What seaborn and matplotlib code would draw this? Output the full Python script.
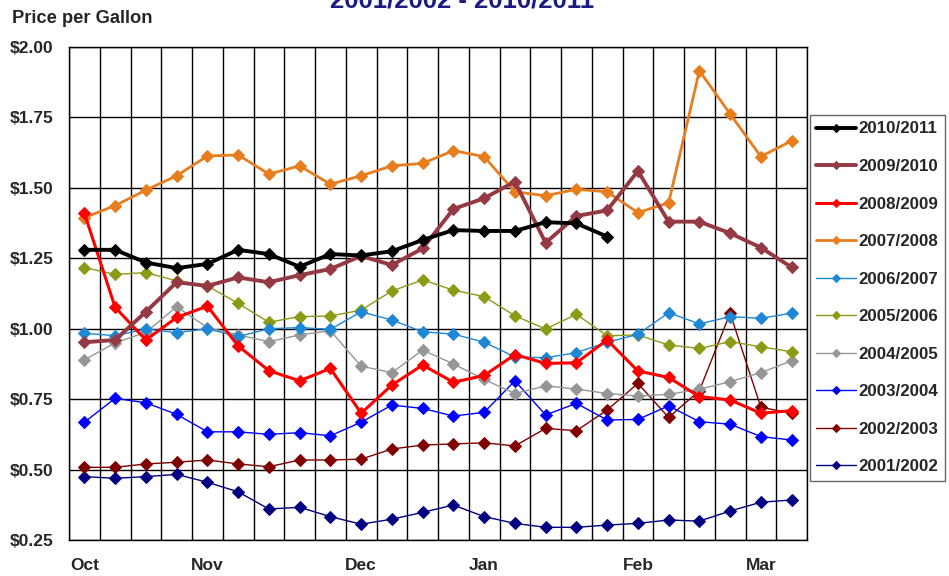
import numpy as np
import pandas as pd
import matplotlib
matplotlib.use("Agg")
import matplotlib.pyplot as plt
from matplotlib.ticker import MultipleLocator, FixedLocator, NullFormatter
import seaborn as sns

# weekly points, Oct -> Mar
weeks = list(range(24))
month_labels = ["Oct", "Nov", "Dec", "Jan", "Feb", "Mar"]
month_pos = [0, 4, 9, 13, 18, 22]

s2010 = [1.28, 1.28, 1.235, 1.215, 1.23, 1.28, 1.265, 1.22, 1.265, 1.26, 1.275, 1.315,
         1.35, 1.347, 1.347, 1.378, 1.374, 1.327]
s2009 = [0.952, 0.96, 1.06, 1.165, 1.152, 1.182, 1.165, 1.19, 1.212, 1.258, 1.226, 1.285,
         1.425, 1.463, 1.522, 1.305, 1.40, 1.42, 1.56, 1.38, 1.38, 1.339, 1.288, 1.218]
s2008 = [1.41, 1.076, 0.96, 1.04, 1.08, 0.939, 0.851, 0.815, 0.859, 0.70, 0.80, 0.871,
         0.81, 0.834, 0.908, 0.877, 0.879, 0.96, 0.85, 0.827, 0.759, 0.747, 0.70, 0.709]
s2007 = [1.394, 1.437, 1.492, 1.543, 1.613, 1.617, 1.549, 1.578, 1.513, 1.543, 1.578, 1.587,
         1.632, 1.611, 1.486, 1.472, 1.495, 1.486, 1.412, 1.447, 1.916, 1.762, 1.611, 1.667]
s2006 = [0.984, 0.975, 0.999, 0.986, 1.0, 0.972, 1.0, 1.004, 0.998, 1.06, 1.031, 0.989,
         0.981, 0.952, 0.90, 0.897, 0.915, 0.952, 0.98, 1.057, 1.017, 1.043, 1.037, 1.055]
s2005 = [1.217, 1.193, 1.199, 1.17, 1.152, 1.09, 1.023, 1.043, 1.045, 1.066, 1.134, 1.173,
         1.137, 1.114, 1.046, 0.999, 1.051, 0.975, 0.978, 0.942, 0.930, 0.954, 0.936, 0.918]
s2004 = [0.889, 0.95, 0.987, 1.078, 1.004, 0.978, 0.954, 0.978, 0.993, 0.867, 0.844, 0.924,
         0.875, 0.82, 0.77, 0.797, 0.786, 0.77, 0.761, 0.767, 0.785, 0.812, 0.844, 0.886]
s2003 = [0.668, 0.753, 0.737, 0.696, 0.634, 0.634, 0.625, 0.631, 0.62, 0.668, 0.729, 0.717,
         0.69, 0.703, 0.815, 0.694, 0.735, 0.676, 0.678, 0.726, 0.67, 0.661, 0.617, 0.605]
s2002 = [0.508, 0.508, 0.52, 0.526, 0.534, 0.52, 0.51, 0.534, 0.534, 0.537, 0.573, 0.587,
         0.591, 0.595, 0.584, 0.646, 0.638, 0.711, 0.806, 0.685, 0.78, 1.055, 0.721, 0.70]
s2001 = [0.475, 0.469, 0.475, 0.483, 0.455, 0.421, 0.36, 0.366, 0.333, 0.306, 0.324, 0.348,
         0.374, 0.333, 0.309, 0.295, 0.295, 0.303, 0.309, 0.321, 0.317, 0.353, 0.384, 0.392]

seasons = ["2010/2011", "2009/2010", "2008/2009", "2007/2008", "2006/2007",
           "2005/2006", "2004/2005", "2003/2004", "2002/2003", "2001/2002"]
values = [s2010, s2009, s2008, s2007, s2006, s2005, s2004, s2003, s2002, s2001]
colors = ["#000000", "#953A45", "#FF0000", "#E87D1E", "#1E88D6",
          "#8B9B16", "#969696", "#0000FF", "#800000", "#000080"]
widths = [2.8, 2.8, 2.2, 2.0, 1.0, 1.0, 1.0, 1.0, 1.0, 1.0]

sns.set_style("white")
plt.rcParams["font.family"] = ["Liberation Sans", "DejaVu Sans"]
plt.rcParams["font.weight"] = "bold"

fig = plt.figure(figsize=(9.49, 5.76), dpi=100)
ax = fig.add_axes([69 / 949, 1 - 540 / 576, 738 / 949, 493 / 576])

# draw oldest first so newer seasons sit on top
for name, vals, col, lw in reversed(list(zip(seasons, values, colors, widths))):
    df = pd.DataFrame({"week": weeks[:len(vals)], "price": vals})
    sns.lineplot(data=df, x="week", y="price", ax=ax, color=col, linewidth=lw,
                 marker="D", markersize=6.5, markeredgecolor=col, label=name)

ax.set_xlim(-0.5, 23.5)
ax.set_ylim(0.25, 2.0)
ax.xaxis.set_major_locator(FixedLocator(np.arange(-0.5, 24, 1)))
ax.xaxis.set_major_formatter(NullFormatter())
ax.xaxis.set_minor_locator(FixedLocator(month_pos))
ax.set_xticks(month_pos, month_labels, minor=True)
ax.tick_params(axis="x", which="major", direction="out", length=5, width=1, color="black")
ax.tick_params(axis="x", which="minor", length=0, pad=13, labelsize=12.5)

ax.yaxis.set_major_locator(MultipleLocator(0.25))
ax.yaxis.set_minor_locator(MultipleLocator(0.05))
ax.set_yticks(np.arange(0.25, 2.01, 0.25))
ax.set_yticklabels([f"${v:.2f}" for v in np.arange(0.25, 2.01, 0.25)])
ax.tick_params(axis="y", which="both", direction="out", color="black", labelsize=12.5)
ax.tick_params(axis="y", which="major", length=5, pad=6)
ax.tick_params(axis="y", which="minor", length=3)

ax.grid(True, which="major", color="black", linewidth=1.0)
for sp in ax.spines.values():
    sp.set_color("black")
    sp.set_linewidth(1.0)
ax.set_xlabel("")
ax.set_ylabel("")

fig.text(12 / 949, 1 - 23 / 576, "Price per Gallon", fontsize=13.2, fontweight="bold",
         va="baseline", ha="left")
fig.text(462 / 949, 1 - 8 / 576, "2001/2002 - 2010/2011", fontsize=18.5, fontweight="bold",
         color="#1C1C80", ha="center", va="baseline")

handles, labels = ax.get_legend_handles_labels()
order = [labels.index(s) for s in seasons]
leg = ax.legend([handles[i] for i in order], [labels[i] for i in order],
                loc="upper left", bbox_to_anchor=(1.004, 0.862), frameon=True,
                fancybox=False, edgecolor="#404040", fontsize=12.2, labelspacing=1.33,
                handlelength=2.35, handletextpad=0.15, borderpad=0.38, borderaxespad=0,
                markerscale=0.7)
leg.get_frame().set_linewidth(1.0)

fig.savefig("out.png", dpi=100)
